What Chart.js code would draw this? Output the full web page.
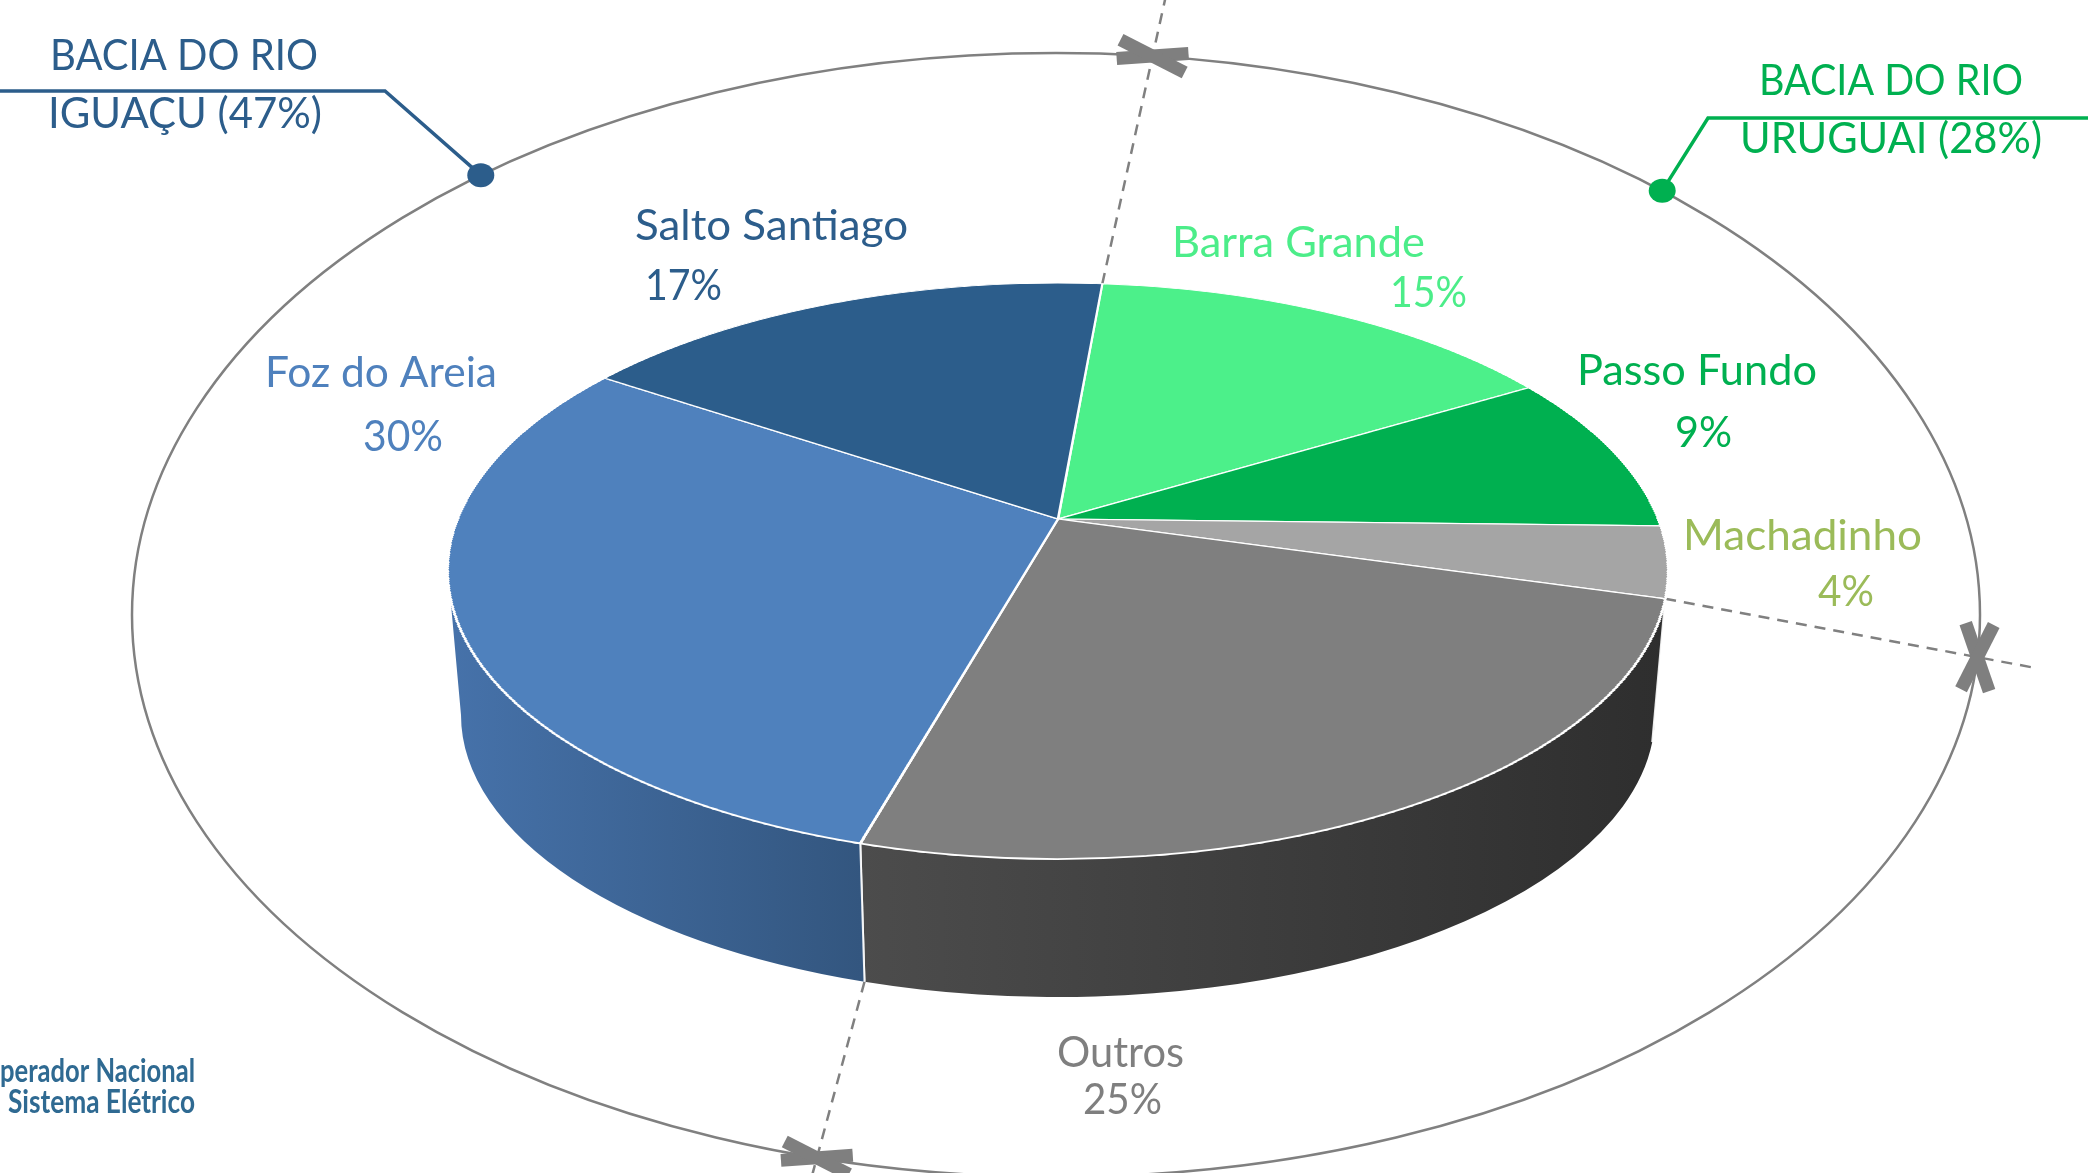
<!DOCTYPE html>
<html><head><meta charset="utf-8">
<script src="https://cdn.jsdelivr.net/npm/chart.js@4/dist/chart.umd.min.js"></script>
<style>html,body{margin:0;padding:0;background:#fff;overflow:hidden}canvas{display:block}</style>
</head><body>
<canvas id="c" width="2088" height="1173"></canvas>
<script>
// ---- data ----
const categories = ['Barra Grande', 'Passo Fundo', 'Machadinho', 'Outros', 'Foz do Areia', 'Salto Santiago'];
const values = [15, 9, 4, 25, 30, 17];
const basinRivers = ['IGUAÇU', 'URUGUAI'];
const basinMembers = [[4, 5], [0, 1, 2]];
const logoLines = ['perador Nacional', 'Sistema Elétrico'];

// ---- styles ----
const topColors = ['#4cf08a', '#00b050', '#a5a5a5', '#7f7f7f', '#4f81bd', '#2c5d8b'];
const labelColors = ['#4ced89', '#00b050', '#9bbb59', '#7f7f7f', '#4f81bd', '#2c5d8b'];
const wallColors = [['#3cc06e', '#2fa05a'], ['#008a3e', '#006f32'], ['#7a7a7a', '#6a6a6a'],
                    ['#4c4c4c', '#2e2e2e'], ['#4672aa', '#33567f'], ['#23496f', '#1c3c5c']];
const basinColors = ['#2c5d8b', '#00b050'];

// ---- layout ----
// top face: ellipse centre, semi-axes, apex (disc centre) offset from ellipse centre
const PIE = {cx: 1058, cy: 571, A: 610, B: 288, c: -52};
// bottom rim of the side wall (slightly smaller: perspective)
const BOT = {cx: 1058, cy: 715, A: 597, B: 282};
const OUTER = {cx: 1056, cy: 615, rx: 924, ry: 562};
const labelBoxes = [
  [[1172, 1425, 257], [1390, 1467, 307]],
  [[1577, 1817, 385], [1675, 1732, 447]],
  [[1683, 1922, 550], [1818, 1874, 606]],
  [[1057, 1184, 1067], [1083, 1162, 1114]],
  [[265, 497, 387], [363, 443, 451]],
  [[635, 908, 240], [645, 722, 300]]
];
const basinBoxes = [
  {l1: [50, 318, 70], l2: [48, 322, 128], lineY: 91, lineFrom: 0, lineTo: 385, dotT: -128.5},
  {l1: [1759, 2023, 95], l2: [1740, 2042, 153], lineY: 118, lineFrom: 2088, lineTo: 1708, dotT: -49}
];
const separators = [
  {slice: 0, bottom: false, t: -84, bars: [-4, 27]},
  {slice: 3, bottom: false, t: 4.3, bars: [71, 117]},
  {slice: 4, bottom: true, t: 105, bars: [-4, 27]}
];
const FONT = 'Lato, "Open Sans", sans-serif';

const rad = d => d * Math.PI / 180;
const persp = PIE.c / PIE.B;
const Ap = PIE.A * Math.sqrt(1 - persp * persp);
// perspective projection of the unit disc onto the top ellipse
function proj(u, v) {
  const w = 1 + persp * v;
  return [PIE.cx + Ap * u / w, PIE.cy + (PIE.B * v + PIE.c) / w];
}
function phiOf(a) {
  const [X, Y] = proj(Math.cos(a), Math.sin(a));
  let f = Math.atan2((Y - PIE.cy) / PIE.B, (X - PIE.cx) / PIE.A);
  while (f < a - Math.PI) f += 2 * Math.PI;
  while (f > a + Math.PI) f -= 2 * Math.PI;
  return f;
}
function ell(E, f) { return [E.cx + E.A * Math.cos(f), E.cy + E.B * Math.sin(f)]; }
function ept(E, a) { return [E.cx + E.rx * Math.cos(a), E.cy + E.ry * Math.sin(a)]; }

function fitText(ctx, text, box, size, color, weight = 'normal', font = FONT) {
  ctx.save();
  ctx.font = `${weight} ${size}px ${font}`;
  ctx.fillStyle = color;
  ctx.textBaseline = 'alphabetic';
  ctx.textAlign = 'left';
  const w = ctx.measureText(text).width;
  ctx.translate(box[0], box[2]);
  ctx.scale((box[1] - box[0]) / w, 1);
  ctx.fillText(text, 0, 0);
  ctx.restore();
}

const pie3d = {
  id: 'pie3d',
  beforeDatasetsDraw(chart) {
    const ctx = chart.ctx;
    const els = chart.getDatasetMeta(0).data;
    const W = chart.width;

    // outer ellipse
    ctx.save();
    ctx.strokeStyle = '#808080';
    ctx.lineWidth = 2.5;
    ctx.beginPath();
    ctx.ellipse(OUTER.cx, OUTER.cy, OUTER.rx, OUTER.ry, 0, 0, Math.PI * 2);
    ctx.stroke();
    ctx.restore();

    // dashed separators + X marks
    separators.forEach(sp => {
      const f = phiOf(els[sp.slice].startAngle);
      const p0 = ell(sp.bottom ? BOT : PIE, f);
      const pm = ept(OUTER, rad(sp.t));
      const dx = pm[0] - p0[0], dy = pm[1] - p0[1];
      const L = Math.hypot(dx, dy);
      const p1 = [pm[0] + dx / L * 60, pm[1] + dy / L * 60];
      ctx.save();
      ctx.strokeStyle = '#808080';
      ctx.lineWidth = 2.5;
      ctx.setLineDash([11, 8]);
      ctx.beginPath();
      ctx.moveTo(p0[0], p0[1]);
      ctx.lineTo(p1[0], p1[1]);
      ctx.stroke();
      ctx.restore();
      ctx.save();
      ctx.fillStyle = '#7f7f7f';
      sp.bars.forEach(b => {
        ctx.save();
        ctx.translate(pm[0], pm[1]);
        ctx.rotate(rad(b));
        ctx.fillRect(-36, -6.5, 72, 13);
        ctx.restore();
      });
      ctx.restore();
    });

    // side walls (front half of the ellipse)
    els.forEach((el, i) => {
      const s = phiOf(el.startAngle);
      const e = (el.endAngle - el.startAngle) >= 2 * Math.PI - 1e-6
        ? s + 2 * Math.PI
        : s + (phiOf(el.endAngle) - s + 4 * Math.PI) % (2 * Math.PI);
      [-2 * Math.PI, 0, 2 * Math.PI].forEach(off => {
        const b1 = Math.max(s, off), b2 = Math.min(e, off + Math.PI);
        if (b2 <= b1) return;
        const xs = [Math.cos(b1), Math.cos(b2)];
        if (b1 <= off + Math.PI && b2 >= off + Math.PI) xs.push(-1);
        if (b1 <= off && b2 >= off) xs.push(1);
        const x0 = PIE.cx + PIE.A * Math.min(...xs), x1 = PIE.cx + PIE.A * Math.max(...xs);
        const g = ctx.createLinearGradient(x0, 0, x1 + 1, 0);
        g.addColorStop(0, wallColors[i][0]);
        g.addColorStop(1, wallColors[i][1]);
        ctx.save();
        ctx.beginPath();
        ctx.ellipse(PIE.cx, PIE.cy, PIE.A, PIE.B, 0, b1, b2);
        ctx.ellipse(BOT.cx, BOT.cy, BOT.A, BOT.B, 0, b2, b1, true);
        ctx.closePath();
        ctx.fillStyle = g;
        ctx.fill();
        ctx.strokeStyle = 'rgba(255,255,255,0.9)';
        ctx.lineWidth = 2;
        [[b1, b1 === s], [b2, b2 === e]].forEach(([b, isEdge]) => {
          if (!isEdge) return;
          const pt = ell(PIE, b), pb = ell(BOT, b);
          ctx.beginPath();
          ctx.moveTo(pt[0], pt[1]);
          ctx.lineTo(pb[0], pb[1]);
          ctx.stroke();
        });
        ctx.restore();
      });
    });

    // top face: the library's arcs, drawn in thin strips, each strip mapped
    // onto the perspective ellipse (piecewise-affine perspective)
    const el0 = els[0];
    const R = el0.outerRadius, x0 = el0.x, y0 = el0.y;
    const N = 260;
    for (let k = 0; k < N; k++) {
      const va = -1 + 2 * k / N, vb = -1 + 2 * (k + 1) / N, vm = (va + vb) / 2;
      const Ya = proj(0, va)[1], Yb = proj(0, vb)[1];
      const wm = 1 + persp * vm;
      const sx = Ap / (R * wm);
      const sy = (PIE.B - persp * PIE.c) / (wm * wm) / R;
      const Ym = proj(0, vm)[1];
      ctx.save();
      ctx.beginPath();
      const top = Math.floor(Ya) - (k === 0 ? 3 : 0), bot = Math.ceil(Yb) + (k === N - 1 ? 3 : 0);
      ctx.rect(0, top, W, bot - top);
      ctx.clip();
      ctx.transform(sx, 0, 0, sy, PIE.cx - sx * x0, Ym - sy * (y0 + R * vm));
      els.forEach(el => el.draw(ctx));
      ctx.restore();
    }
    return false;
  },
  afterDraw(chart) {
    const ctx = chart.ctx;
    // slice labels
    categories.forEach((c, i) => {
      fitText(ctx, c, labelBoxes[i][0], 43, labelColors[i]);
      fitText(ctx, values[i] + '%', labelBoxes[i][1], 43, labelColors[i]);
    });

    // basin annotations
    basinBoxes.forEach((b, k) => {
      const total = basinMembers[k].reduce((acc, idx) => acc + values[idx], 0);
      const col = basinColors[k];
      fitText(ctx, 'BACIA DO RIO', b.l1, 42, col);
      fitText(ctx, `${basinRivers[k]} (${total}%)`, b.l2, 42, col);
      const dot = ept(OUTER, rad(b.dotT));
      ctx.save();
      ctx.strokeStyle = col;
      ctx.lineWidth = 3.5;
      ctx.beginPath();
      ctx.moveTo(b.lineFrom, b.lineY);
      ctx.lineTo(b.lineTo, b.lineY);
      ctx.lineTo(dot[0], dot[1]);
      ctx.stroke();
      ctx.fillStyle = col;
      ctx.beginPath();
      ctx.ellipse(dot[0], dot[1], 13.5, 12, 0, 0, Math.PI * 2);
      ctx.fill();
      ctx.restore();
    });

    // logo text
    fitText(ctx, logoLines[0], [0, 195, 1082], 32, '#2f6a92', 'bold');
    fitText(ctx, logoLines[1], [8, 195, 1113], 32, '#2f6a92', 'bold');
  }
};

new Chart(document.getElementById('c'), {
  type: 'pie',
  data: {
    labels: categories,
    datasets: [{
      data: values,
      backgroundColor: topColors,
      borderColor: '#ffffff',
      borderWidth: 2.5,
      clip: false
    }]
  },
  options: {
    responsive: false,
    animation: false,
    rotation: 5,
    layout: {padding: 0},
    plugins: {legend: {display: false}, tooltip: {enabled: false}}
  },
  plugins: [pie3d]
});
</script>
</body></html>
